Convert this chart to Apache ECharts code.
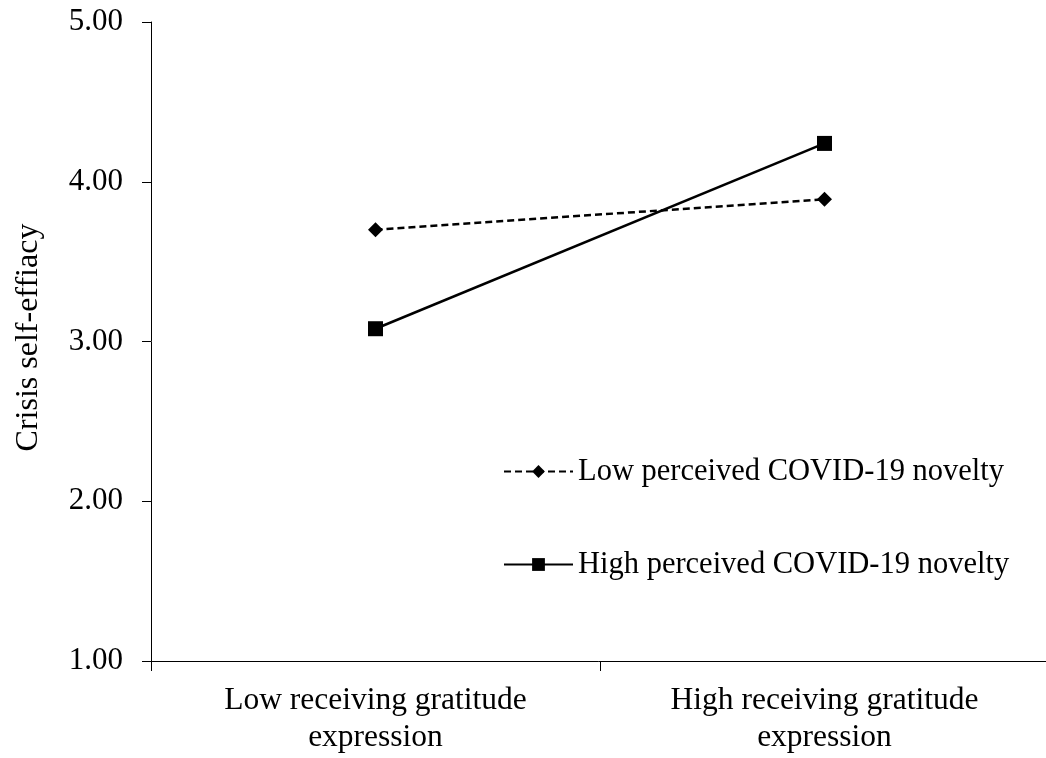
<!DOCTYPE html>
<html>
<head>
<meta charset="utf-8">
<script src="https://cdn.jsdelivr.net/npm/echarts@6/dist/echarts.min.js"></script>
<style>
html,body{margin:0;padding:0;background:#fff;}
#chart{width:1046px;height:758px;}
</style>
</head>
<body>
<div id="chart"></div>
<script>
const categories = ['Low receiving gratitude\nexpression', 'High receiving gratitude\nexpression'];
const lowNovelty = [3.70, 3.89];
const highNovelty = [3.08, 4.24];
const seriesNames = ['Low perceived COVID-19 novelty', 'High perceived COVID-19 novelty'];
const yTicks = { min: 1, max: 5, interval: 1 };
const yAxisTitle = 'Crisis self-effiacy';

const font = '"Liberation Serif", "DejaVu Serif", serif';
const chart = echarts.init(document.getElementById('chart'));
chart.setOption({
  animation: false,
  backgroundColor: '#fff',
  grid: { left: 151, width: 898, top: 22, bottom: 97, containLabel: false, outerBoundsMode: 'none' },
  xAxis: {
    type: 'category',
    data: categories,
    boundaryGap: true,
    axisLine: { lineStyle: { color: '#000', width: 1 } },
    axisTick: { show: true, length: 10, lineStyle: { color: '#000' } },
    axisLabel: { color: '#000', fontFamily: font, fontSize: 31.5, lineHeight: 37, margin: 21, interval: 0 },
    splitLine: { show: false }
  },
  yAxis: {
    type: 'value',
    min: yTicks.min, max: yTicks.max, interval: yTicks.interval,
    name: yAxisTitle,
    nameLocation: 'middle',
    nameRotate: 90,
    nameGap: 106,
    nameTextStyle: { color: '#000', fontFamily: font, fontSize: 32, padding: [0, 0, 0, 8] },
    axisLine: { show: true, lineStyle: { color: '#000', width: 1 } },
    axisTick: { show: true, length: 9, lineStyle: { color: '#000' } },
    axisLabel: { color: '#000', fontFamily: font, fontSize: 31, margin: 28,
      formatter: v => v.toFixed(2) },
    splitLine: { show: false }
  },
  legend: {
    orient: 'vertical',
    left: 498,
    top: 451,
    itemWidth: 69,
    itemHeight: 16,
    itemGap: 62,
    textStyle: { color: '#000', fontFamily: font, fontSize: 30.5 },
    data: seriesNames
  },
  series: [
    {
      name: seriesNames[0],
      type: 'line',
      data: lowNovelty,
      symbol: 'diamond',
      symbolSize: 15,
      itemStyle: { color: '#000' },
      lineStyle: { color: '#000', width: 2.5, type: [7, 4] }
    },
    {
      name: seriesNames[1],
      type: 'line',
      data: highNovelty,
      symbol: 'rect',
      symbolSize: 15,
      itemStyle: { color: '#000' },
      lineStyle: { color: '#000', width: 2.5, type: 'solid' }
    }
  ]
});
</script>
</body>
</html>
